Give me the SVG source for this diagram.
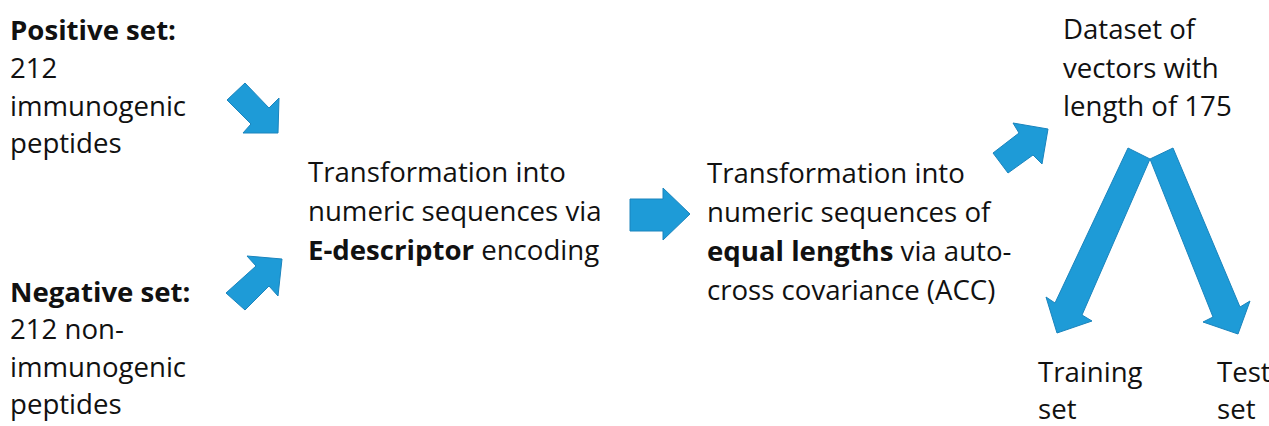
<svg xmlns="http://www.w3.org/2000/svg" width="1269" height="426" viewBox="0 0 1269 426">
<style>
text{font-family:"Open Sans","Noto Sans",sans-serif;font-size:27.6px;fill:#111;}
.b{font-weight:bold;}
.arr{fill:#1e9bd7;stroke:#1a84bd;stroke-width:1;stroke-linejoin:miter;}
</style>
<rect width="1269" height="426" fill="#fff"/>
<g id="positive">
<text x="10" y="40"><tspan class="b">Positive set:</tspan></text>
<text x="10" y="78">212</text>
<text x="10" y="116">immunogenic</text>
<text x="10" y="153">peptides</text>
</g>
<g id="negative">
<text x="10" y="302"><tspan class="b">Negative set:</tspan></text>
<text x="10" y="339">212 non-</text>
<text x="10" y="377">immunogenic</text>
<text x="10" y="414">peptides</text>
</g>
<g id="edescriptor">
<text x="308" y="182">Transformation into</text>
<text x="308" y="221">numeric sequences via</text>
<text x="308" y="260"><tspan class="b">E-descriptor</tspan> encoding</text>
</g>
<g id="acc">
<text x="707" y="183">Transformation into</text>
<text x="707" y="222">numeric sequences of</text>
<text x="707" y="261"><tspan class="b">equal lengths</tspan> via auto-</text>
<text x="707" y="300">cross covariance (ACC)</text>
</g>
<g id="dataset">
<text x="1063" y="39">Dataset of</text>
<text x="1063" y="78">vectors with</text>
<text x="1063" y="116">length of 175</text>
</g>
<g id="training">
<text x="1038" y="382">Training</text>
<text x="1038" y="419">set</text>
</g>
<g id="test">
<text x="1217" y="382">Test</text>
<text x="1217" y="419">set</text>
</g>
<g id="connectors">
<polygon class="arr" points="245,83 227,100 251,124 243,133 278,133 279,98 269,108"/>
<polygon class="arr" points="226,293 245,310 269,286 278,296 282,259 247,256 256,266"/>
<polygon class="arr" points="630,199 663,199 663,188 690,214 663,240 663,231 630,231"/>
<polygon class="arr" points="993,153 1008,173 1033,155 1042,164 1048,129 1013,123 1019,133"/>
<polygon class="arr" points="1128,148 1150,159 1082,315 1092,321 1057,333 1046,297 1055,303"/>
<polygon class="arr" points="1150,159 1173,148 1240,307 1250,301 1238,334 1203,322 1213,317"/>
</g>
</svg>
